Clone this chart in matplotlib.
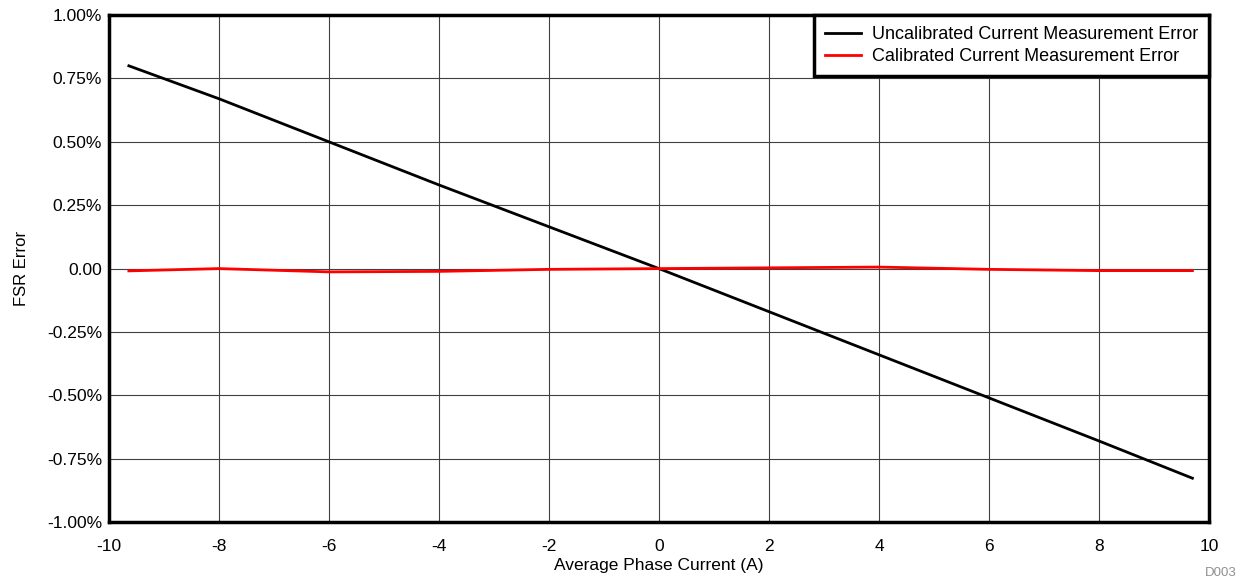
import numpy as np
import matplotlib.pyplot as plt
from matplotlib.ticker import FixedLocator

plt.rcParams['font.family'] = ['Liberation Sans', 'DejaVu Sans']

# data (FSR error in %)
current = [-9.64, -8, -6, -4, -2, 0, 2, 4, 6, 8, 9.70]
uncal_err = [0.80, 0.67, 0.50, 0.33, 0.165, 0.0, -0.17, -0.34, -0.51, -0.68, -0.827]
cal_err = [-0.009, 0.0, -0.013, -0.011, -0.003, 0.0, 0.003, 0.006, -0.003, -0.008, -0.008]

yticks = [1.0, 0.75, 0.5, 0.25, 0.0, -0.25, -0.5, -0.75, -1.0]
ytick_labels = ["1.00%", "0.75%", "0.50%", "0.25%", "0.00", "-0.25%", "-0.50%", "-0.75%", "-1.00%"]
xticks = list(range(-10, 11, 2))

fig = plt.figure(figsize=(12.45, 5.82), dpi=100)
ax = fig.add_axes([0.0876, 0.103, 0.971 - 0.0876, 0.974 - 0.103])

ax.plot(current, uncal_err, color='black', lw=2, label='Uncalibrated Current Measurement Error')
ax.plot(current, cal_err, color='#ff0000', lw=2, label='Calibrated Current Measurement Error')

ax.set_xlim(-10, 10)
ax.set_ylim(-1.0, 1.0)
ax.xaxis.set_major_locator(FixedLocator(xticks))
ax.set_xticklabels([str(t) for t in xticks])
ax.set_yticks(yticks)
ax.set_yticklabels(ytick_labels)
ax.tick_params(length=0, labelsize=12.5)
ax.tick_params(axis='x', pad=12)
ax.tick_params(axis='y', pad=5)

ax.grid(True, color='#404040', lw=0.8)
ax.set_axisbelow(True)
for s in ax.spines.values():
    s.set_linewidth(2.5)

ax.set_xlabel('Average Phase Current (A)', fontsize=12.5, labelpad=3)
ax.set_ylabel('FSR Error', fontsize=12, labelpad=13)

leg = ax.legend(loc='upper right', fontsize=13, fancybox=False, framealpha=1,
                borderaxespad=0, handlelength=2.0, handletextpad=0.6,
                borderpad=0.6, labelspacing=0.3)
leg.get_frame().set_edgecolor('black')
leg.get_frame().set_linewidth(2.5)

fig.text(0.9936, 0.0155, 'D003', color='#909090', fontsize=9.5, ha='right', va='center')

fig.savefig('out.png', dpi=100)
